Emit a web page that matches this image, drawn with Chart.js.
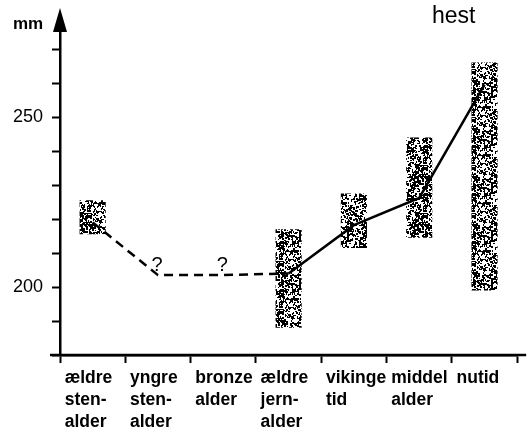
<!DOCTYPE html>
<html>
<head>
<meta charset="utf-8">
<script src="https://cdn.jsdelivr.net/npm/chart.js@4"></script>
<style>
  body { margin: 0; background: #fff; }
  canvas { display: block; }
</style>
</head>
<body>
<canvas id="myChart" width="532" height="432"></canvas>
<script>
// data ////////////////////////////////////////////////////
let periods = [
  ["ældre", "sten-", "alder"],
  ["yngre", "sten-", "alder"],
  ["bronze", "alder"],
  ["ældre", "jern-", "alder"],
  ["vikinge", "tid"],
  ["middel", "alder"],
  ["nutid"]
];
let rangeLow = [215.5, null, null, 188, 211.5, 214.5, 199];
let rangeHigh = [225.5, null, null, 217, 227.5, 244, 266];
let meanHeight = [219, 203.5, 203.5, 204, 218.2, 226.2, 259.5];
let notes = [null, "?", "?", null, null, null, null];
let yLabels = [200, 250];
let yMin = 180;
let yMax = 275;
let lastDashed = 3; // stiplet linje til og med ældre jernalder

let ranges = rangeLow.map(function (lo, i) {
  return lo == null ? null : [lo, rangeHigh[i]];
});

// prikket mønster til boksene
function makeStipple() {
  let c = document.createElement("canvas");
  c.width = 48;
  c.height = 48;
  let g = c.getContext("2d");
  g.fillStyle = "#fff";
  g.fillRect(0, 0, 48, 48);
  g.fillStyle = "#000";
  let seed = 7;
  function rnd() {
    seed = (seed * 16807) % 2147483647;
    return seed / 2147483647;
  }
  for (let i = 0; i < 700; i++) {
    let x = Math.floor(rnd() * 48);
    let y = Math.floor(rnd() * 48);
    let r = rnd();
    if (r < 0.4) g.fillRect(x, y, 2, 1);
    else if (r < 0.8) g.fillRect(x, y, 1, 2);
    else g.fillRect(x, y, 2, 2);
  }
  return g.createPattern(c, "repeat");
}

// pil, enheder og spørgsmålstegn
let decoPlugin = {
  id: "deco",
  afterDraw: function (chart) {
    let ctx = chart.ctx;
    let area = chart.chartArea;
    ctx.save();
    ctx.fillStyle = "#000";
    ctx.strokeStyle = "#000";
    // pil på y-aksen
    ctx.beginPath();
    ctx.moveTo(area.left, 8);
    ctx.lineTo(area.left - 7, area.top);
    ctx.lineTo(area.left + 7, area.top);
    ctx.closePath();
    ctx.fill();
    // x-aksen lidt længere ud i begge sider
    ctx.lineWidth = 2.5;
    ctx.beginPath();
    ctx.moveTo(area.left - 10, area.bottom);
    ctx.lineTo(area.right + 9, area.bottom);
    ctx.stroke();

    ctx.font = "bold 17px 'Liberation Sans', Arial, sans-serif";
    ctx.textAlign = "left";
    ctx.textBaseline = "alphabetic";
    ctx.fillText("mm", 13, 29);
    ctx.font = "23px 'Liberation Sans', Arial, sans-serif";
    ctx.fillText("hest", 432, 23);

    let meta = chart.getDatasetMeta(1);
    ctx.font = "20px 'Liberation Sans', Arial, sans-serif";
    ctx.textAlign = "center";
    for (let i = 0; i < notes.length; i++) {
      if (!notes[i]) continue;
      let pt = meta.data[i];
      ctx.fillText(notes[i], pt.x - 1, pt.y - 4);
    }
    ctx.restore();
  }
};

let ctx = document.getElementById("myChart").getContext("2d");
let stipple = makeStipple();

let myChart = new Chart(ctx, {
  type: "bar",
  data: {
    labels: periods,
    datasets: [
      {
        type: "bar",
        data: ranges,
        backgroundColor: stipple,
        borderWidth: 0,
        barPercentage: 0.4,
        categoryPercentage: 1,
        order: 2
      },
      {
        type: "line",
        data: meanHeight,
        borderColor: "#000",
        borderWidth: 2.5,
        pointRadius: 0,
        tension: 0,
        fill: false,
        order: 1,
        segment: {
          borderDash: function (c) {
            return c.p1DataIndex <= lastDashed ? [9, 6] : undefined;
          }
        }
      }
    ]
  },
  options: {
    responsive: false,
    animation: false,
    layout: { padding: { top: 32, right: 10, left: 0, bottom: 0 } },
    plugins: {
      legend: { display: false },
      tooltip: { enabled: false }
    },
    scales: {
      x: {
        offset: true,
        afterFit: function (scale) {
          scale.height = 77;
        },
        border: { display: true, color: "#000", width: 2.5 },
        grid: {
          offset: true,
          drawOnChartArea: false,
          drawTicks: true,
          tickLength: 8,
          tickWidth: 2,
          tickColor: "#000"
        },
        ticks: {
          autoSkip: false,
          maxRotation: 0,
          minRotation: 0,
          align: "start",
          labelOffset: -28,
          padding: 4,
          color: "#000",
          font: { family: "'Liberation Sans', Arial, sans-serif", size: 17.5, weight: "bold", lineHeight: 1.27 }
        }
      },
      y: {
        min: yMin,
        max: yMax,
        afterFit: function (scale) {
          scale.width = 60;
        },
        border: { display: true, color: "#000", width: 2.5 },
        grid: {
          drawOnChartArea: false,
          drawTicks: true,
          tickLength: 8,
          tickWidth: 2,
          tickColor: "#000"
        },
        ticks: {
          stepSize: 10,
          includeBounds: false,
          padding: 9,
          color: "#000",
          font: { family: "'Liberation Sans', Arial, sans-serif", size: 18 },
          callback: function (v) {
            return yLabels.indexOf(v) >= 0 ? String(v) : "";
          }
        }
      }
    }
  },
  plugins: [decoPlugin]
});
</script>
</body>
</html>
